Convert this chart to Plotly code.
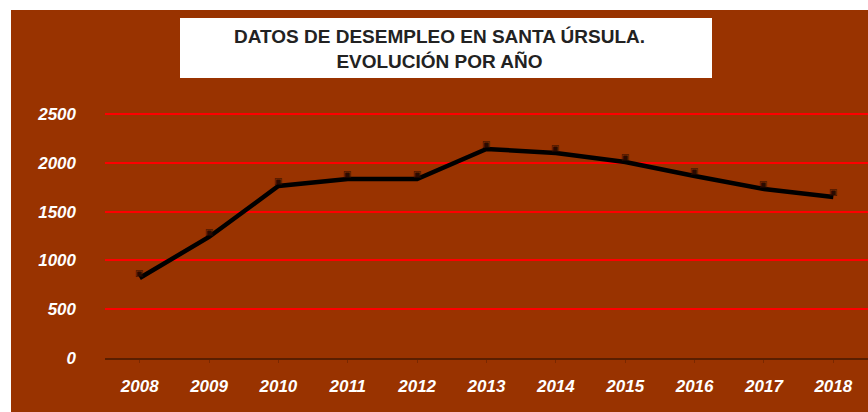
import plotly.graph_objects as go

years = ["2008", "2009", "2010", "2011", "2012", "2013", "2014", "2015", "2016", "2017", "2018"]
paro = [820, 1240, 1762, 1834, 1834, 2141, 2100, 2008, 1865, 1732, 1650]
marcas = ["▣"] * len(years)
y_ticks = [0, 500, 1000, 1500, 2000, 2500]
titulo = "DATOS DE DESEMPLEO EN SANTA ÚRSULA.<br>EVOLUCIÓN POR AÑO"

OFF = 0  # body margin removed by post_script
W, H = 868 - OFF, 412 - OFF
PLOT_L, PLOT_R = 105, 868          # page coords
Y0_PAGE = 358                      # page y of value 0
YMAX = 2520
PX_PER_UNIT = 244 / 2500
ph = YMAX * PX_PER_UNIT
PLOT_T = Y0_PAGE - ph
pw = PLOT_R - PLOT_L

L = PLOT_L - OFF
R = 868 - PLOT_R
T = PLOT_T - OFF
B = 412 - Y0_PAGE


def px(x):
    return (x - PLOT_L) / pw


def py(y):
    return (Y0_PAGE - y) / ph


BROWN = "#993300"
tick_font = dict(family="Liberation Sans, Arial", size=17, color="white", weight="bold", style="italic")

fig = go.Figure()
fig.add_trace(go.Scatter(
    x=years, y=paro, mode="lines+text", text=marcas,
    textposition="top center", textfont=dict(size=9, color="#2a0a00"),
    line=dict(color="black", width=4.5),
    cliponaxis=False, hoverinfo="skip", showlegend=False,
))

fig.update_layout(
    width=W, height=H,
    margin=dict(l=L, r=R, t=T, b=B, pad=0),
    paper_bgcolor="white",
    plot_bgcolor=BROWN,
    font=dict(family="Liberation Sans, Arial"),
    xaxis=dict(
        type="category", range=[-0.5, 10.5], showgrid=False,
        showline=True, linecolor="#5a1e00", linewidth=2,
        ticks="outside", tickcolor="#7a2800", ticklen=3,
        tickfont=tick_font, ticklabelstandoff=9, zeroline=False,
    ),
    yaxis=dict(
        range=[0, YMAX], tickvals=y_ticks, showgrid=True,
        gridcolor="#ff0000", gridwidth=2, zeroline=False, showline=False,
        ticks="", tickfont=tick_font, ticklabelstandoff=28,
    ),
    shapes=[
        dict(type="rect", xref="paper", yref="paper", layer="below",
             x0=px(11), x1=px(872), y0=py(416), y1=py(10),
             fillcolor=BROWN, line=dict(width=0)),
        dict(type="rect", xref="paper", yref="paper", layer="above",
             x0=px(180), x1=px(712), y0=py(78), y1=py(18),
             fillcolor="white", line=dict(width=0)),
    ],
    annotations=[
        dict(text=titulo, xref="paper", yref="paper", x=px(439), y=py(49),
             xanchor="center", yanchor="middle", showarrow=False, align="center",
             font=dict(family="Liberation Sans, Arial", size=19, color="#222222", weight="bold")),
    ],
)

fig.write_html(
    "out.html",
    config={"displayModeBar": False, "staticPlot": True},
    post_script="document.body.style.margin='0px';document.body.style.overflow='hidden';",
)
